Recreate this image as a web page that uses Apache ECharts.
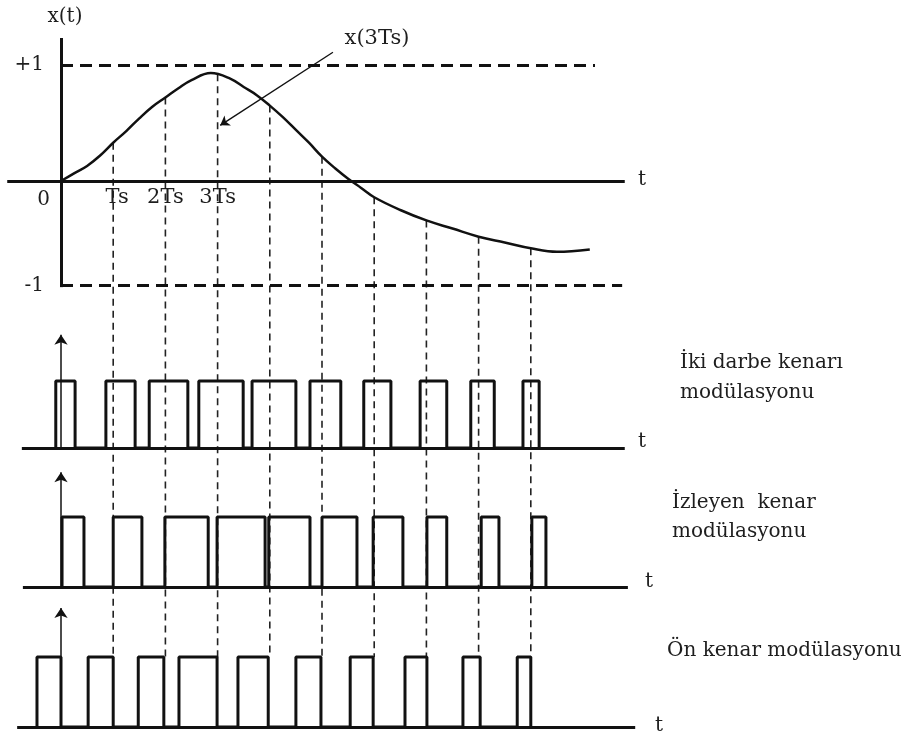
<!DOCTYPE html>
<html><head><meta charset="utf-8">
<script src="https://cdn.jsdelivr.net/npm/echarts@6/dist/echarts.min.js"></script>
<style>html,body{margin:0;padding:0;background:#fff}#c{width:908px;height:740px}</style>
</head><body><div id="c"></div>
<script>
// ---- data (time in units of Ts) ----
const curveT = [0, 0.25, 0.5, 0.75, 1, 1.25, 1.5, 1.75, 2, 2.25, 2.5, 2.87, 3.25, 3.5, 3.75, 4, 4.25, 4.5, 4.75, 5, 5.25, 5.5, 5.75, 6, 6.5, 7, 7.5, 8, 8.5, 9, 9.5, 10.13];
const curveX = [0, 0.066, 0.13, 0.22, 0.33, 0.43, 0.54, 0.64, 0.72, 0.80, 0.87, 0.93, 0.88, 0.81, 0.74, 0.65, 0.55, 0.44, 0.33, 0.21, 0.11, 0.02, -0.06, -0.14, -0.25, -0.34, -0.41, -0.48, -0.53, -0.58, -0.61, -0.59];
const sampleT = [1, 2, 3, 4, 5, 6, 7, 8, 9];
const sampleX = [0.33, 0.72, 0.92, 0.65, 0.21, -0.14, -0.34, -0.48, -0.58];
const tickValues = [1, 2, 3];
const tickLabels = ['Ts', '2Ts', '3Ts'];
const levelValues = [1, -0.9];
const levelLabels = ['+1', '-1'];
const levelEnds = [10.23, 10.75];
const annotationText = 'x(3Ts)';

const pulses1Start = [-0.10, 0.86, 1.69, 2.64, 3.66, 4.77, 5.80, 6.88, 7.85, 8.85];
const pulses1End   = [0.27, 1.42, 2.43, 3.49, 4.50, 5.36, 6.32, 7.39, 8.30, 9.16];
const pulses2Start = [0.02, 1.00, 1.99, 2.99, 3.98, 5.00, 5.98, 7.01, 8.05, 9.02];
const pulses2End   = [0.44, 1.55, 2.82, 3.91, 4.77, 5.67, 6.55, 7.39, 8.39, 9.29];
const pulses3Start = [-0.46, 0.52, 1.48, 2.26, 3.39, 4.50, 5.54, 6.59, 7.70, 8.74];
const pulses3End   = [0.00, 1.00, 1.97, 2.99, 3.97, 4.98, 5.98, 7.01, 8.03, 9.00];
const trainNames = ['İki darbe kenarı\nmodülasyonu', 'İzleyen  kenar\nmodülasyonu', 'Ön kenar modülasyonu'];

// ---- layout ----
const FONT = '"DejaVu Serif", "Liberation Serif", serif';
const INK = '#111';
const xMin = -1.1, xMax = 11.2;
const gridLeft = 3.58, gridWidth = 642.06;
const grids = [
  {left: gridLeft, width: gridWidth, top: 36, height: 261},
  {left: gridLeft, width: gridWidth, top: 327.4, height: 127.3},
  {left: gridLeft, width: gridWidth, top: 461, height: 133},
  {left: gridLeft, width: gridWidth, top: 601, height: 133}
];
const yRanges = [[-1, 1.25], [-0.1, 1.8], [-0.1, 1.8], [-0.1, 1.8]];
const baseRanges = [[-0.75, 10.8], [-0.73, 10.86], [-0.84, 11.0]];
const arrowTops = [1.69, 1.64, 1.70];

function stepPoints(starts, ends) {
  const pts = [];
  starts.forEach((s, i) => { pts.push([s, 0], [s, 1], [ends[i], 1], [ends[i], 0]); });
  return pts;
}

const chart = echarts.init(document.getElementById('c'), null, {renderer: 'canvas'});
const series = [
  {
    type: 'line', xAxisIndex: 0, yAxisIndex: 0, silent: true,
    data: curveT.map((t, i) => [t, curveX[i]]),
    smooth: 0.4, showSymbol: false, symbol: 'none',
    lineStyle: {color: INK, width: 2.5},
    markLine: {
      silent: true, symbol: 'none', label: {show: false}, animation: false,
      lineStyle: {type: [12, 7], width: 3, color: INK},
      data: levelValues.map((v, i) => [{coord: [0, v]}, {coord: [levelEnds[i], v]}])
    }
  },
  {
    type: 'line', xAxisIndex: 0, yAxisIndex: 0, silent: true, data: [],
    markLine: {
      silent: true, symbol: ['none', 'arrow'], symbolSize: [0, 12], label: {show: false}, animation: false,
      lineStyle: {type: 'solid', width: 3, color: INK},
      data: [
        [{coord: [-1.03, 0]}, {coord: [10.8, 0]}],
        [{coord: [0, -0.915]}, {coord: [0, 1.233]}],
        [{coord: [5.21, 1.11], lineStyle: {width: 1.4}}, {coord: [3.05, 0.48], symbolSize: 9}]
      ]
    }
  }
];
[[pulses1Start, pulses1End], [pulses2Start, pulses2End], [pulses3Start, pulses3End]].forEach((p, k) => {
  series.push({
    type: 'line', xAxisIndex: k + 1, yAxisIndex: k + 1, silent: true,
    data: stepPoints(p[0], p[1]), showSymbol: false, symbol: 'none',
    lineStyle: {color: INK, width: 3},
    markLine: {
      silent: true, symbol: ['none', 'arrow'], symbolSize: [0, 12], label: {show: false}, animation: false,
      lineStyle: {type: 'solid', width: 3, color: INK},
      data: [
        [{coord: [baseRanges[k][0], 0]}, {coord: [baseRanges[k][1], 0]}],
        [{coord: [0, 0], lineStyle: {width: 1.5}}, {coord: [0, arrowTops[k]], symbolSize: 10}]
      ]
    }
  });
});

chart.setOption({
  animation: false,
  backgroundColor: '#fff',
  grid: grids,
  xAxis: grids.map((g, i) => ({type: 'value', gridIndex: i, min: xMin, max: xMax, show: false})),
  yAxis: grids.map((g, i) => ({type: 'value', gridIndex: i, min: yRanges[i][0], max: yRanges[i][1], show: false})),
  series: series
});

// ---- cross-panel sample lines and texts, placed via the chart's own scales ----
const gfx = [];
sampleT.forEach((t, i) => {
  const a = chart.convertToPixel({gridIndex: 0}, [t, sampleX[i]]);
  const b = chart.convertToPixel({gridIndex: 3}, [t, 1]);
  gfx.push({type: 'line', silent: true, z: 1,
    shape: {x1: a[0], y1: a[1], x2: b[0], y2: b[1]},
    style: {stroke: '#222', lineWidth: 1.6, lineDash: [7, 5]}});
});
function txt(text, x, y, size, align, vAlign, extra) {
  gfx.push({type: 'text', silent: true, z: 5, x: x, y: y,
    style: Object.assign({text: text, font: size + 'px ' + FONT, fill: '#1e1e1e',
      align: align || 'center', verticalAlign: vAlign || 'middle'}, extra || {})});
}
tickValues.forEach((v, i) => {
  const p = chart.convertToPixel({gridIndex: 0}, [v, 0]);
  txt(tickLabels[i], p[0] + (i === 0 ? 4 : 0), p[1] + 17, 21);
});
levelValues.forEach((v, i) => {
  const p = chart.convertToPixel({gridIndex: 0}, [0, v]);
  txt(levelLabels[i], p[0] - 17, p[1], 20, 'right');
});
const o = chart.convertToPixel({gridIndex: 0}, [0, 0]);
txt('0', o[0] - 11, o[1] + 19, 20, 'right');
txt('x(t)', 65, 17, 20);
txt(annotationText, 377, 39, 21);
txt('t', 638, 180, 20, 'left');
txt('t', 638, 442, 20, 'left');
txt('t', 645, 582, 20, 'left');
txt('t', 655, 726, 20, 'left');
txt(trainNames[0], 680, 348, 20, 'left', 'top', {lineHeight: 30});
txt(trainNames[1], 672, 488, 20, 'left', 'top', {lineHeight: 29});
txt(trainNames[2], 667, 651, 20, 'left', 'middle');
chart.setOption({graphic: gfx});
</script>
</body></html>
